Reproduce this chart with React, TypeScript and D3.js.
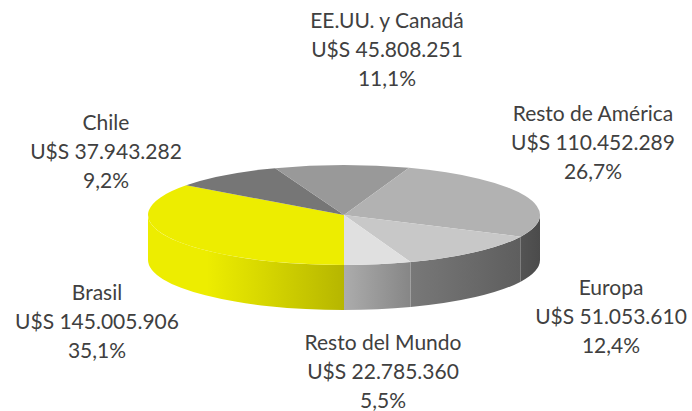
import React from "react";
import * as d3 from "d3";

const categories = ["Brasil", "Chile", "EE.UU. y Canadá", "Resto de América", "Europa", "Resto del Mundo"];
const values = [145005906, 37943282, 45808251, 110452289, 51053610, 22785360];
const colors = ["#EDED00", "#767676", "#999999", "#B2B2B2", "#C8C8C8", "#E0E0E0"];

// label anchor (center of middle line) – layout only
const labelPos: [number, number][] = [
  [97, 322],
  [106, 152],
  [387, 50],
  [593, 143],
  [611, 317],
  [383, 372],
];

const W = 692, H = 411;
const cx = 344, cy = 215, rx = 196, ry = 50, depth = 45;

const locale = d3.formatLocale({ decimal: ",", thousands: ".", grouping: [3], currency: ["U$S ", ""] });
const fmtMoney = locale.format("$,.0f");
const fmtPct = locale.format(".1%");

const shade = d3.scaleLinear<number>()
  .domain([0, 0.15, 0.5, 0.67, 0.95, 1])
  .range([1, 1, 0.77, 0.6, 0.47, 0.42]);

const pt = (a: number, dy = 0): [number, number] => [cx + rx * Math.sin(a), cy - ry * Math.cos(a) + dy];

export default function App() {
  const total = d3.sum(values);
  const pie = d3.pie<number>().sort(null).startAngle(Math.PI).endAngle(3 * Math.PI);
  const arcs = pie(values);

  const fronts: [number, number][] = [
    [Math.PI / 2, (3 * Math.PI) / 2],
    [(5 * Math.PI) / 2, (7 * Math.PI) / 2],
  ];

  const sides: { d: string; i: number }[] = [];
  arcs.forEach((a, i) => {
    fronts.forEach(([f0, f1]) => {
      const s = Math.max(a.startAngle, f0);
      const e = Math.min(a.endAngle, f1);
      if (e > s + 1e-6) {
        const p0 = pt(s), p1 = pt(e), q1 = pt(e, depth), q0 = pt(s, depth);
        const d = `M${p0[0]},${p0[1]} A${rx},${ry} 0 0 1 ${p1[0]},${p1[1]} L${q1[0]},${q1[1]} A${rx},${ry} 0 0 0 ${q0[0]},${q0[1]} Z`;
        sides.push({ d, i });
      }
    });
  });

  const tops = arcs.map((a, i) => {
    const p0 = pt(a.startAngle), p1 = pt(a.endAngle);
    const large = a.endAngle - a.startAngle > Math.PI ? 1 : 0;
    return { d: `M${cx},${cy} L${p0[0]},${p0[1]} A${rx},${ry} 0 ${large} 1 ${p1[0]},${p1[1]} Z`, i };
  });

  const stops = [0, 0.15, 0.3, 0.5, 0.67, 0.8, 0.95, 1];

  return (
    <div style={{ position: "absolute", left: 0, top: 0 }}>
      <svg width={W} height={H} style={{ display: "block", background: "#fff" }}>
        <defs>
          {colors.map((c, i) => (
            <linearGradient key={i} id={`side${i}`} gradientUnits="userSpaceOnUse" x1={cx - rx} x2={cx + rx} y1={0} y2={0}>
              {stops.map((t) => {
                const col = d3.rgb(c);
                const k = shade(t);
                const out = d3.rgb(col.r * k, col.g * k, col.b * k);
                return <stop key={t} offset={t} stopColor={out.formatHex()} />;
              })}
            </linearGradient>
          ))}
        </defs>
        {sides.map((s, k) => (
          <path key={"s" + k} d={s.d} fill={`url(#side${s.i})`} />
        ))}
        {tops.map((t) => (
          <path key={"t" + t.i} d={t.d} fill={colors[t.i]} />
        ))}
        {categories.map((c, i) => {
          const [x, y] = labelPos[i];
          const lines = [c, fmtMoney(values[i]), fmtPct(values[i] / total)];
          return (
            <text key={c} x={x} textAnchor="middle" fontFamily="Lato, 'Open Sans', sans-serif" fontSize={21} fill="#404040">
              {lines.map((l, j) => (
                <tspan key={j} x={x} y={y + (j - 1) * 29 + 7}>{l}</tspan>
              ))}
            </text>
          );
        })}
      </svg>
    </div>
  );
}
